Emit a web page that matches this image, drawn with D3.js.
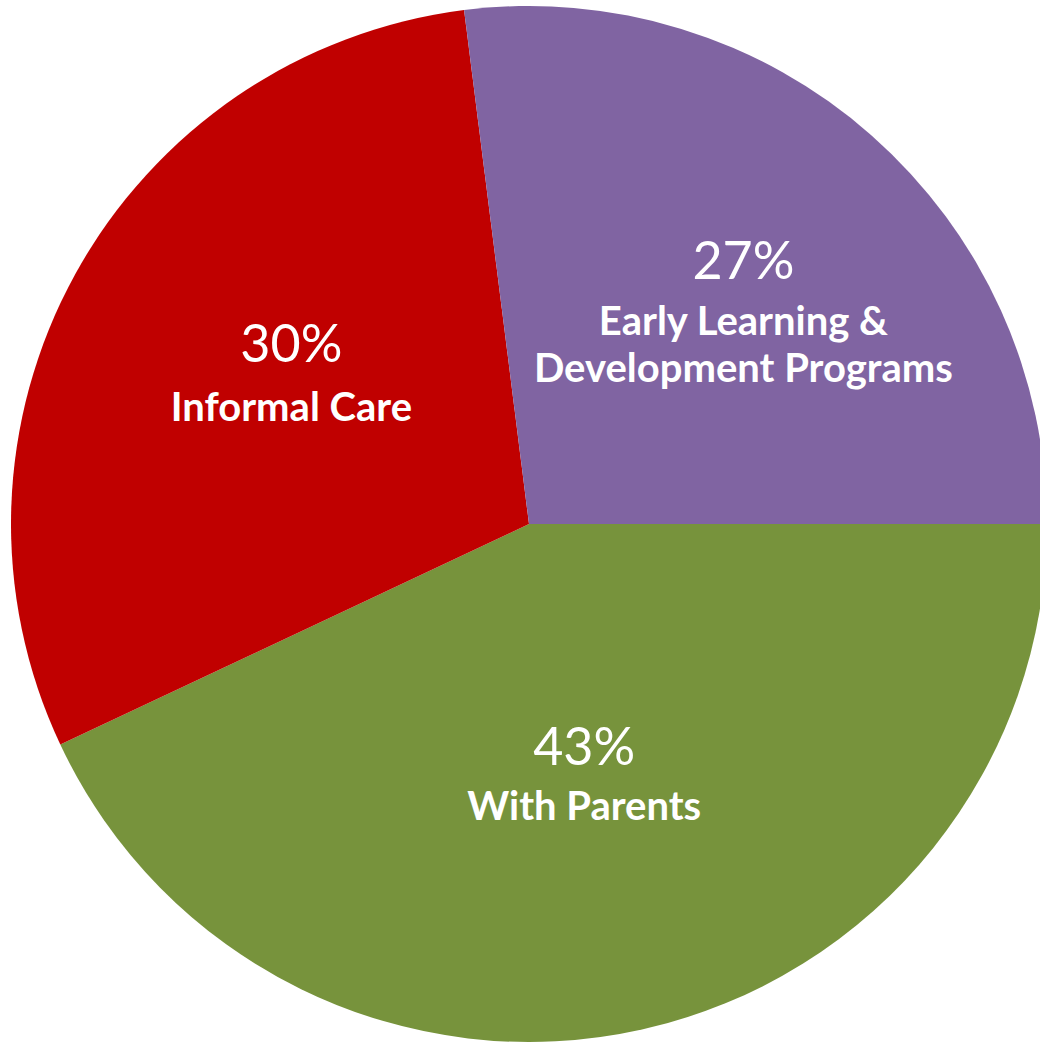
<!DOCTYPE html>
<html lang="en">
<head>
    <meta charset="UTF-8">
    <title>Child care arrangements</title>
    <script src="https://d3js.org/d3.v7.min.js"></script>
</head>

<style>
    body {
        margin: 0;
        padding: 0;
        background: #ffffff;
    }

    svg {
        display: block;
    }

    .pct {
        font-family: Lato, "Open Sans", sans-serif;
        font-weight: 400;
        fill: #ffffff;
    }

    .lbl {
        font-family: Lato, "Open Sans", sans-serif;
        font-weight: 700;
        fill: #ffffff;
    }
</style>

<body>
<div class="chart-container"></div>

<script>
  /** DATA */
  var categories = ['With Parents', 'Informal Care', 'Early Learning & Development Programs'];
  var shares = [43, 30, 27];
  var labelLines = [['With Parents'], ['Informal Care'], ['Early Learning &', 'Development Programs']];
  var sliceColors = ['#77933C', '#C00000', '#8064A2'];

  /** LAYOUT */
  var width = 1040;
  var height = 1047;
  var centerX = 529;
  var centerY = 524;
  var radius = 518;

  var svg_selection = d3.select('.chart-container')
    .append('svg')
    .attr('width', width)
    .attr('height', height);

  var pie_group = svg_selection
    .append('g')
    .attr('transform', 'translate(' + centerX + ',' + centerY + ')');

  /** first slice starts at 3 o'clock and runs clockwise */
  var pie = d3.pie()
    .sort(null)
    .value(function (d) { return d; })
    .startAngle(Math.PI / 2)
    .endAngle(Math.PI / 2 + 2 * Math.PI);

  var arcs = pie(shares);

  var arc = d3.arc()
    .innerRadius(0)
    .outerRadius(radius);

  pie_group.selectAll('path')
    .data(arcs)
    .enter().append('path')
    .attr('d', arc)
    .attr('fill', function (_, i) { return sliceColors[i]; });

  /** label positions: a centroid arc per slice, nudged a bit per slice */
  var labelArc = d3.arc()
    .innerRadius(radius * 0.55)
    .outerRadius(radius * 0.55);

  var labelOffsets = [[-7, -37], [12, -25], [26, -31]];
  var firstLineGap = [55, 59, 56];
  var lineSpacing = 47;

  var label_selection = pie_group.selectAll('g.slice-label')
    .data(arcs)
    .enter().append('g')
    .classed('slice-label', true)
    .attr('transform', function (d, i) {
      var c = labelArc.centroid(d);
      return 'translate(' + (c[0] + labelOffsets[i][0]) + ',' + (c[1] + labelOffsets[i][1]) + ')';
    });

  label_selection.append('text')
    .classed('pct', true)
    .attr('text-anchor', 'middle')
    .attr('font-size', 52)
    .attr('y', 0)
    .text(function (d) { return d.data + '%'; });

  label_selection.each(function (d, i) {
    var g = d3.select(this);
    labelLines[i].forEach(function (line, j) {
      g.append('text')
        .classed('lbl', true)
        .attr('text-anchor', 'middle')
        .attr('font-size', 40)
        .attr('y', firstLineGap[i] + j * lineSpacing)
        .text(line);
    });
  });
</script>
</body>
</html>
